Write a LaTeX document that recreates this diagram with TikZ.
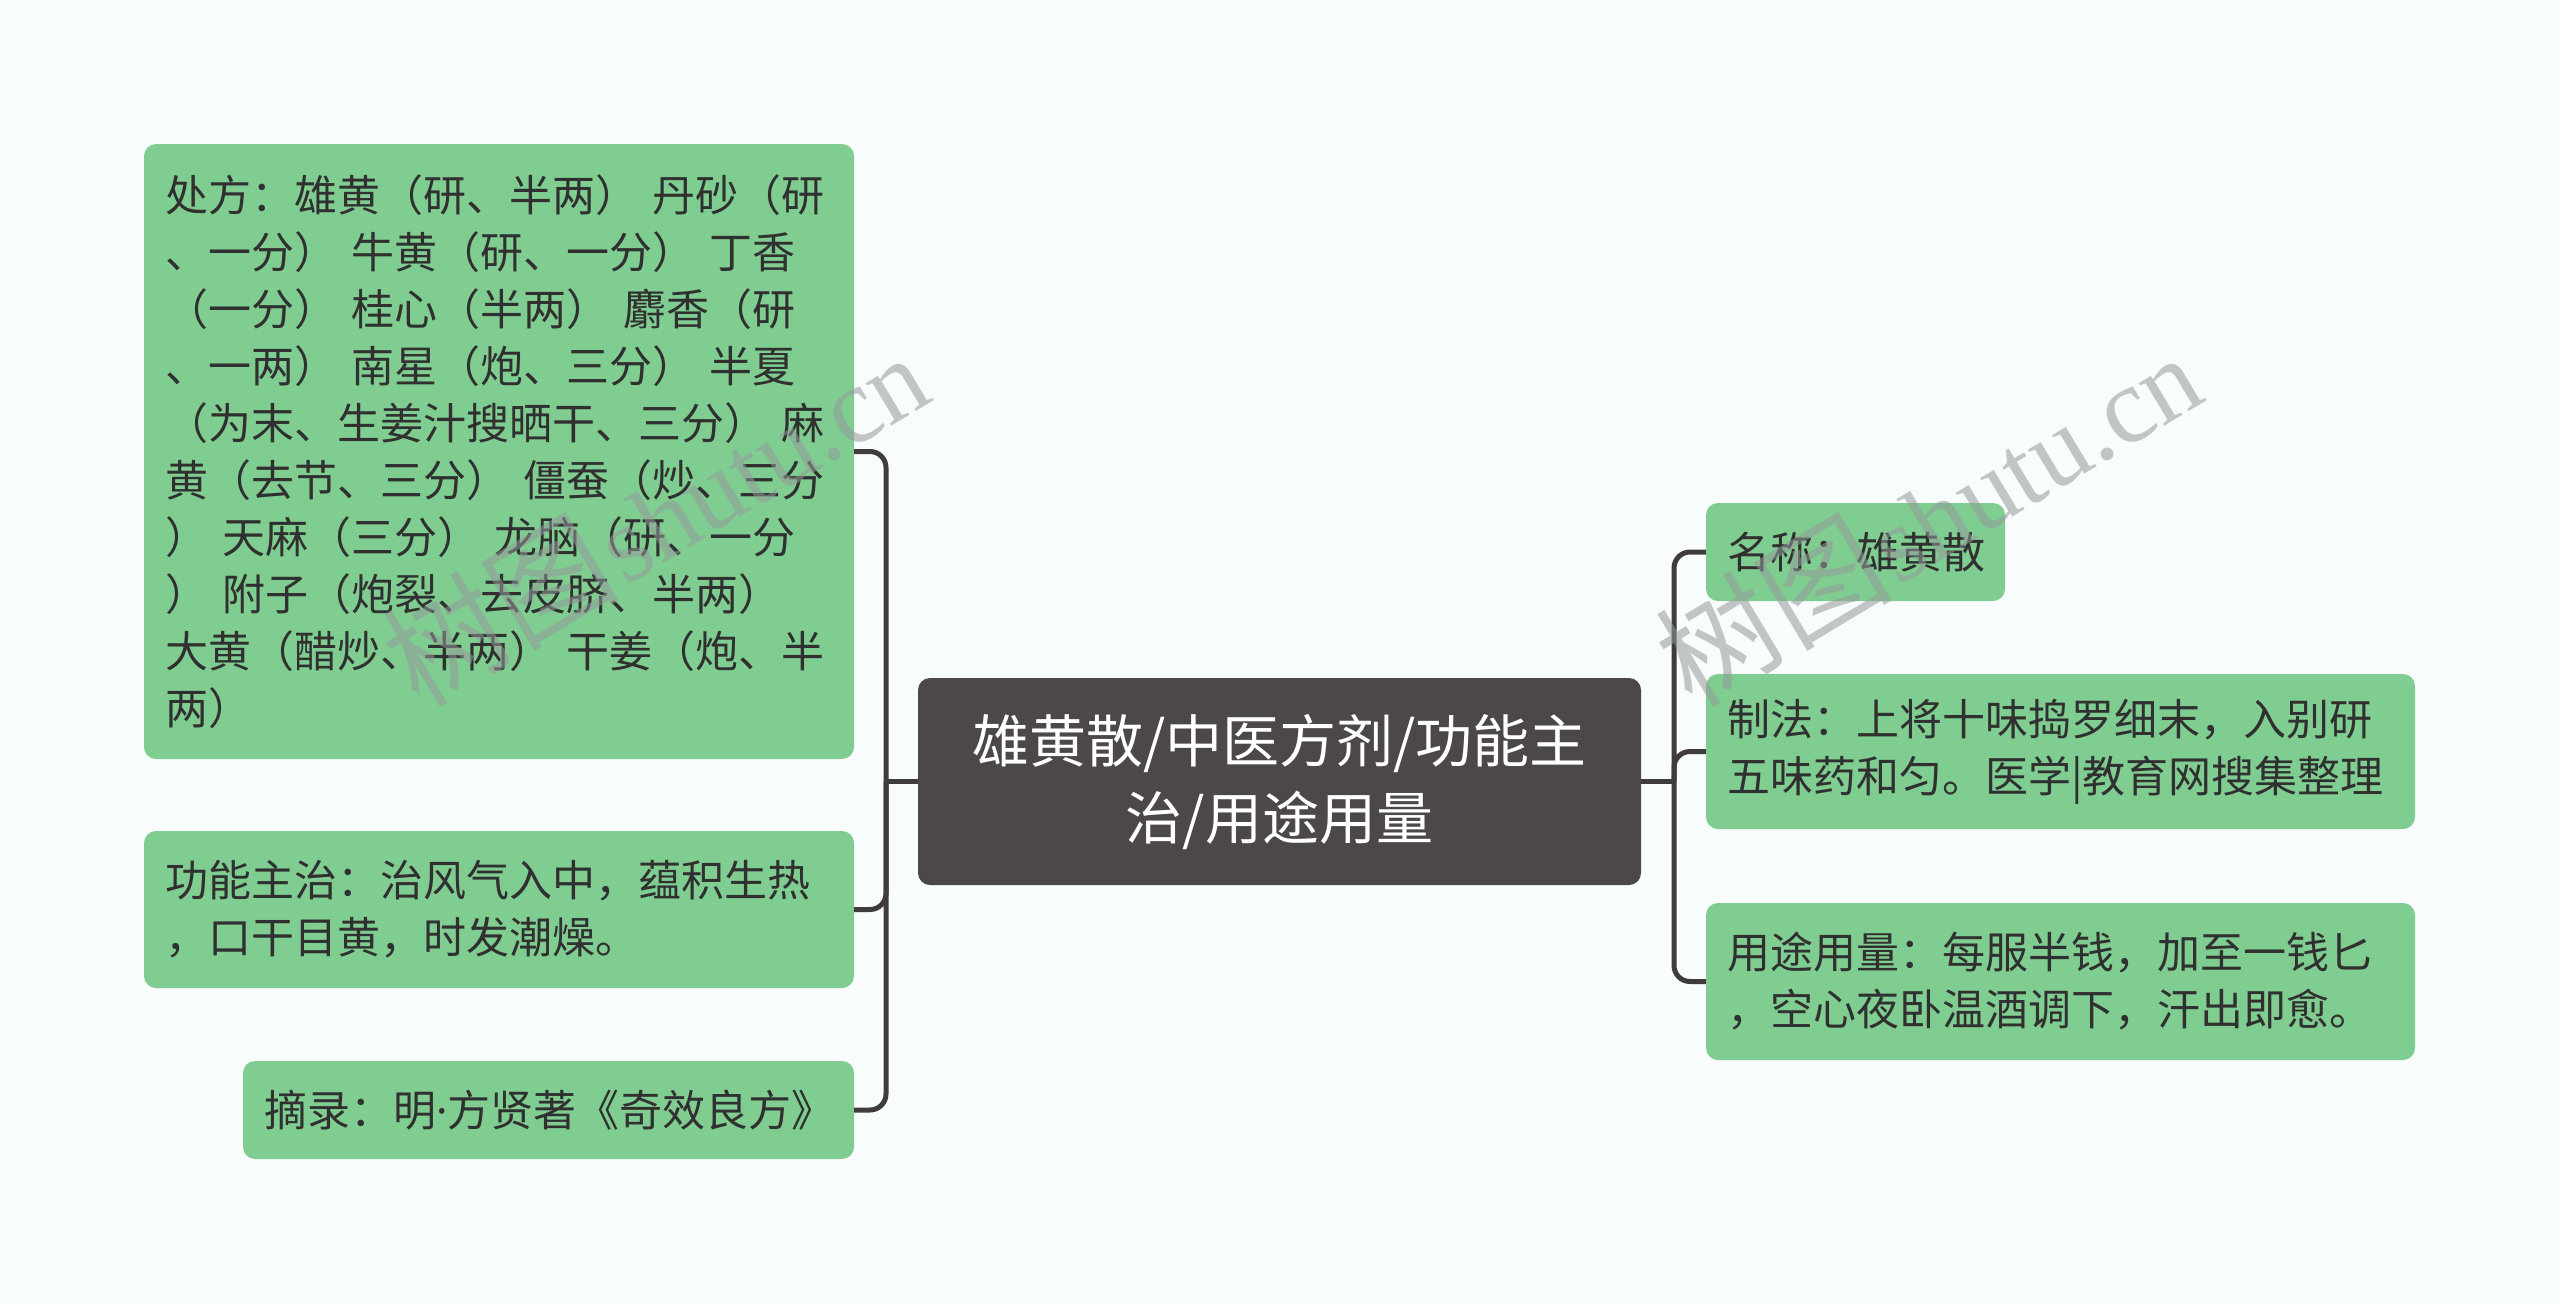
\documentclass[tikz,border=0pt]{standalone}
\usepackage{fontspec}
\newfontfamily\cjk{Noto Sans CJK SC}
\newfontfamily\latinsans{Noto Sans}
\newfontfamily\wmserif{Liberation Serif}
\definecolor{bgc}{RGB}{248,252,252}
\definecolor{leafgreen}{RGB}{128,205,145}
\definecolor{txtc}{RGB}{48,48,48}
\definecolor{rootc}{RGB}{77,72,72}
\definecolor{linec}{RGB}{64,60,60}
\definecolor{wmc}{RGB}{148,153,153}
\tikzset{
  leaf/.style={draw=none, fill=leafgreen, rounded corners=12pt, inner xsep=21pt, inner ysep=0pt,
    text=txtc, align=left, font=\cjk\fontsize{43}{57}\selectfont},
  rootbox/.style={draw=none, fill=rootc, rounded corners=12pt, inner sep=0pt,
    text=white, align=center, font=\cjk\fontsize{57}{77}\selectfont},
  conn/.style={draw=linec, line width=5pt, rounded corners=16pt},
  wm/.style={text=wmc, opacity=0.55, rotate=31, inner sep=0pt}
}
\begin{document}
\begin{tikzpicture}[x=1pt,y=-1pt]
\fill[bgc] (0,0) rectangle (2560,1304);
\useasboundingbox (0,0) rectangle (2560,1304);

\node[rootbox, minimum width=723pt, minimum height=207pt] (C) at (1279.5,781.5)
  {雄黄散/中医方剂/功能主\\治/用途用量};

\node[leaf, text width=668pt, minimum height=615pt] (L1) at (499,451.5)
  {处方：雄黄（研、半两） 丹砂（研\\
   、一分） 牛黄（研、一分） 丁香\\
   （一分） 桂心（半两） 麝香（研\\
   、一两） 南星（炮、三分） 半夏\\
   （为末、生姜汁搜晒干、三分） 麻\\
   黄（去节、三分） 僵蚕（炒、三分\\
   ） 天麻（三分） 龙脑（研、一分\\
   ） 附子（炮裂、去皮脐、半两）\\
   大黄（醋炒、半两） 干姜（炮、半\\
   两）};
\node[leaf, text width=668pt, minimum height=157pt] (L2) at (499,909.5)
  {功能主治：治风气入中，蕴积生热\\，口干目黄，时发潮燥。};
\node[leaf, text width=569pt, minimum height=98pt] (L3) at (548.5,1110)
  {摘录：明{\latinsans ·}方贤著《奇效良方》};

\node[leaf, text width=257pt, minimum height=98pt] (R1) at (1855.5,552)
  {名称：雄黄散};
\node[leaf, text width=667pt, minimum height=155pt] (R2) at (2060.5,751.5)
  {制法：上将十味捣罗细末，入别研\\五味药和匀。医学|教育网搜集整理};
\node[leaf, text width=667pt, minimum height=157pt] (R3) at (2060.5,981.5)
  {用途用量：每服半钱，加至一钱匕\\，空心夜卧温酒调下，汗出即愈。};

\coordinate (lb) at (886,781.5);
\coordinate (rb) at (1674,781.5);
\draw[conn] (C.west) -- (lb);
\draw[conn] (L1.east) -| (lb) |- (L3.east);
\draw[conn] (lb) |- (L2.east);
\draw[conn] (C.east) -- (rb);
\draw[conn] (R1.west) -| (rb) |- (R3.west);
\draw[conn] (rb) |- (R2.west);

\node[wm] (wm1) at (655,516) {{\cjk\fontsize{118}{118}\selectfont 树图} {\wmserif\fontsize{108}{108}\selectfont shutu.cn}};
\node[wm] (wm2) at (1928,516) {{\cjk\fontsize{118}{118}\selectfont 树图} {\wmserif\fontsize{108}{108}\selectfont shutu.cn}};
\end{tikzpicture}
\end{document}
